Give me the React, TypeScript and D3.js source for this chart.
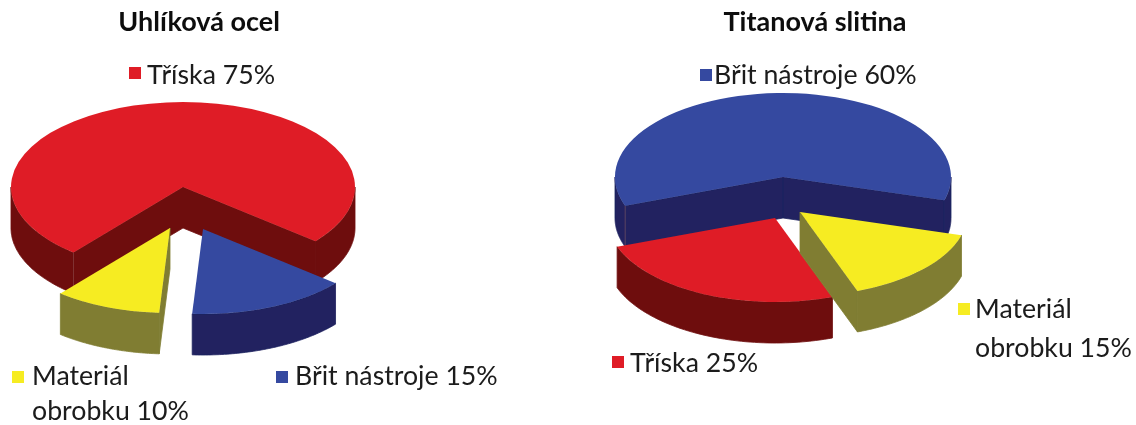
import React from "react";
import * as d3 from "d3";

const leftTitle = "Uhlíková ocel";
const rightTitle = "Titanová slitina";
const leftNames = ["Břit nástroje", "Materiál obrobku", "Tříska"];
const leftValues = [15, 10, 75];
const rightNames = ["Materiál obrobku", "Tříska", "Břit nástroje"];
const rightValues = [15, 25, 60];

const COLORS: Record<string, [string, string]> = {
  "Tříska": ["#DF1F26", "#6E0D0D"],
  "Břit nástroje": ["#354AA0", "#202260"],
  "Materiál obrobku": ["#F6EC22", "#807D33"],
};

type Offset = [number, number];
const leftOffsets: Offset[] = [[20, 42], [-13, 41], [0, 0]];
const rightOffsets: Offset[] = [[17, 35], [-8, 41], [0, 0]];
const leftOrder = [2, 1, 0];
const rightOrder = [2, 1, 0];

const rad = (d: number) => (d * Math.PI) / 180;

function Pie3D({ cx, cy, rx, ry, depth, startDeg, names, values, offsets, order }: any) {
  const slices = d3
    .pie<number>()
    .sort(null)
    .startAngle(rad(startDeg))
    .endAngle(rad(startDeg + 360))(values);
  const arc = d3.arc<any>().innerRadius(0).outerRadius(1);
  const proj = (a: number, dy: number): [number, number] => [
    rx * Math.sin(a),
    -ry * Math.cos(a) + dy,
  ];
  const line = d3.line();
  const rimRanges = (a0: number, a1: number) => {
    const out: [number, number][] = [];
    for (let k = 0; k < 3; k++) {
      const lo = Math.max(a0, Math.PI / 2 + 2 * Math.PI * k);
      const hi = Math.min(a1, (3 * Math.PI) / 2 + 2 * Math.PI * k);
      if (hi > lo) out.push([lo, hi]);
    }
    return out;
  };
  return (
    <g>
      {order.map((idx: number) => {
        const s = slices[idx];
        const [top, side] = COLORS[names[idx]];
        const [ox, oy] = offsets[idx];
        const walls: string[] = [];
        const wall = (a: number) =>
          line([[0, 0], proj(a, 0), proj(a, depth), [0, depth]]) + "Z";
        if (Math.sin(s.startAngle) < 0) walls.push(wall(s.startAngle));
        if (Math.sin(s.endAngle) > 0) walls.push(wall(s.endAngle));
        const rims = rimRanges(s.startAngle, s.endAngle).map(([lo, hi]) => {
          const as = d3.range(0, 61).map((i) => lo + ((hi - lo) * i) / 60);
          const pts = [
            ...as.map((a) => proj(a, 0)),
            ...as.slice().reverse().map((a) => proj(a, depth)),
          ];
          return line(pts) + "Z";
        });
        const large = s.value >= 50;
        const seamS = proj(s.startAngle, 0);
        return (
          <g key={idx} transform={`translate(${cx + ox},${cy + oy})`}>
            {walls.map((d, i) => (
              <path key={i} d={d} fill={side} stroke={side} strokeWidth={0.8} />
            ))}
            {rims.map((d, i) => (
              <path key={i} d={d} fill={side} stroke={side} strokeWidth={0.8} />
            ))}
            {large && (
              <line
                x1={seamS[0]}
                y1={seamS[1]}
                x2={seamS[0]}
                y2={seamS[1] + depth}
                stroke="#97605f"
                strokeWidth={0.7}
                opacity={0.7}
              />
            )}
            <path
              d={arc({ startAngle: s.startAngle, endAngle: s.endAngle }) as string}
              transform={`scale(${rx},${ry})`}
              fill={top}
            />
          </g>
        );
      })}
    </g>
  );
}

function Key({ x, y, name, lines }: any) {
  return (
    <g>
      <rect x={x} y={y} width={12} height={12} fill={COLORS[name][0]} />
      {lines.map((t: [string, number, number], i: number) => (
        <text key={i} x={t[1]} y={t[2]} fontSize={26.7} fill="#1a1a1a">
          {t[0]}
        </text>
      ))}
    </g>
  );
}

export default function App() {
  return (
    <svg
      width={1136}
      height={425}
      viewBox="0 0 1136 425"
      style={{ position: "absolute", left: 0, top: 0, fontFamily: "Lato, sans-serif" }}
    >
      <defs>
        <filter id="soft" x="-2%" y="-2%" width="104%" height="104%">
          <feGaussianBlur stdDeviation={0.55} />
        </filter>
      </defs>
      <rect width={1136} height={425} fill="#fff" />
      <g filter="url(#soft)">
        <text x={199} y={31} textAnchor="middle" fontSize={27} fontWeight={700} fill="#111">
          {leftTitle}
        </text>
        <text x={815} y={31} textAnchor="middle" fontSize={27} fontWeight={700} fill="#111">
          {rightTitle}
        </text>
        <Pie3D
          cx={183} cy={187} rx={172} ry={85} depth={41} startDeg={129.6}
          names={leftNames} values={leftValues} offsets={leftOffsets} order={leftOrder}
        />
        <Pie3D
          cx={783} cy={177} rx={168} ry={84} depth={41} startDeg={106}
          names={rightNames} values={rightValues} offsets={rightOffsets} order={rightOrder}
        />
        <Key x={129} y={67} name="Tříska" lines={[[`Tříska ${leftValues[2]}%`, 147, 84]]} />
        <Key x={12} y={371} name="Materiál obrobku" lines={[["Materiál", 32, 385], [`obrobku ${leftValues[1]}%`, 32, 419.5]]} />
        <Key x={276} y={371} name="Břit nástroje" lines={[[`Břit nástroje ${leftValues[0]}%`, 295, 385]]} />
        <Key x={700} y={69} name="Břit nástroje" lines={[[`Břit nástroje ${rightValues[2]}%`, 714, 84]]} />
        <Key x={958} y={303} name="Materiál obrobku" lines={[["Materiál", 975, 318], [`obrobku ${rightValues[0]}%`, 975, 357]]} />
        <Key x={612} y={356} name="Tříska" lines={[[`Tříska ${rightValues[1]}%`, 630, 372]]} />
      </g>
    </svg>
  );
}
